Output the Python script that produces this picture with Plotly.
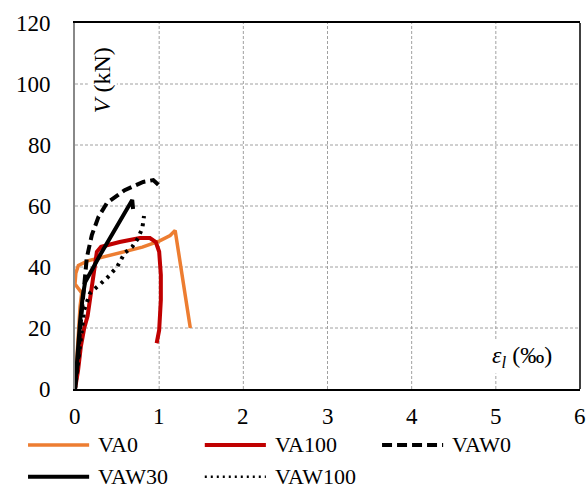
import plotly.graph_objects as go

# Longitudinal strain (‰) vs shear force V (kN) for each specimen
va0_strain = [0.0, 0.02, 0.04, 0.06, 0.08, 0.0, 0.01, 0.04, 0.15, 0.3, 0.6, 0.8, 1.0, 1.13, 1.19, 1.37]
va0_force = [0.0, 10.0, 20.0, 27.0, 31.5, 34.4, 38.0, 40.5, 42.0, 43.0, 45.0, 46.5, 48.5, 50.3, 52.0, 20.0]

va100_strain = [0.0, 0.036, 0.07, 0.11, 0.15, 0.2, 0.24, 0.26, 0.31, 0.53, 0.77, 0.89, 0.96, 1.0, 1.02, 1.02, 1.0, 0.97]
va100_force = [0.0, 6.0, 14.0, 20.0, 24.0, 34.0, 40.7, 45.0, 46.6, 48.2, 49.5, 49.5, 48.2, 45.0, 37.4, 29.2, 19.3, 15.0]

vaw0_strain = [0.0, 0.036, 0.06, 0.09, 0.11, 0.14, 0.2, 0.28, 0.38, 0.59, 0.81, 0.93, 1.0]
vaw0_force = [0.0, 9.5, 19.3, 29.2, 35.7, 43.0, 50.5, 56.5, 61.0, 65.2, 67.9, 68.5, 66.7]

vaw30_strain = [0.0, 0.03, 0.06, 0.09, 0.12, 0.3, 0.5, 0.66, 0.68, 0.69]
vaw30_force = [0.0, 12.0, 22.0, 30.0, 35.0, 44.0, 53.5, 60.5, 62.0, 59.0]

vaw100_strain = [0.0, 0.04, 0.07, 0.11, 0.18, 0.38, 0.5, 0.59, 0.68, 0.75, 0.8, 0.82]
vaw100_force = [0.0, 9.5, 17.7, 26.0, 31.5, 36.4, 40.0, 44.6, 46.6, 49.5, 52.8, 56.7]

x_ticks = [0, 1, 2, 3, 4, 5, 6]
y_ticks = [0, 20, 40, 60, 80, 100, 120]

series = [
    ("VA0", va0_strain, va0_force, "#ED7D31", "solid", 3.5),
    ("VA100", va100_strain, va100_force, "#C00000", "solid", 4),
    ("VAW0", vaw0_strain, vaw0_force, "#000000", "10px,5px", 4),
    ("VAW30", vaw30_strain, vaw30_force, "#000000", "solid", 4),
    ("VAW100", vaw100_strain, vaw100_force, "#000000", "3px,5px", 4),
]

FONT = "Liberation Serif"
TICK_FONT = dict(family=FONT, size=23, color="black")
GRID = dict(color="#a0a0a0", width=1, dash="3px,2px")

fig = go.Figure()

# Dashed grid lines at the interior tick positions
for xv in x_ticks[1:-1]:
    fig.add_shape(type="line", xref="x", yref="paper", x0=xv, x1=xv, y0=0, y1=1,
                  line=GRID, layer="below")
for yv in y_ticks[1:-1]:
    fig.add_shape(type="line", xref="paper", yref="y", x0=0, x1=1, y0=yv, y1=yv,
                  line=GRID, layer="below")

# Tick labels in serif type
for xv in x_ticks:
    fig.add_annotation(xref="x", yref="paper", x=xv, y=-0.074, text=str(xv),
                       showarrow=False, xanchor="center", yanchor="middle",
                       font=TICK_FONT)
for yv in y_ticks:
    fig.add_annotation(xref="paper", yref="y", x=-0.044, y=yv, text=str(yv),
                       showarrow=False, xanchor="right", yanchor="middle",
                       font=TICK_FONT)

for name, xs, ys, color, dash, width in series:
    fig.add_trace(go.Scatter(
        x=xs, y=ys, mode="lines", name=name, showlegend=False,
        line=dict(color=color, dash=dash, width=width),
    ))

# Legend drawn as line samples + labels below the plot area
legend_cols = [(-0.093, 0.028, 0.042), (0.257, 0.378, 0.392), (0.608, 0.729, 0.743)]
legend_rows = [-0.153, -0.240]
for i, (name, _, _, color, dash, width) in enumerate(series):
    x0, x1, xt = legend_cols[i % 3]
    yy = legend_rows[i // 3]
    sample_dash = dash
    sample_width = width
    if name == "VAW100":
        sample_dash = "2px,4px"
        sample_width = 2.5
    fig.add_shape(type="line", xref="paper", yref="paper",
                  x0=x0, x1=x1, y0=yy, y1=yy,
                  line=dict(color=color, dash=sample_dash, width=sample_width))
    fig.add_annotation(xref="paper", yref="paper", x=xt, y=yy,
                       text=name, showarrow=False, xanchor="left", yanchor="middle",
                       font=dict(family=FONT, size=22, color="black"))

# Right frame edge
fig.add_shape(type="line", xref="paper", yref="paper", x0=1, x1=1, y0=0, y1=1,
              line=dict(color="black", width=1.5))

# Axis titles placed inside the plot on white boxes
fig.add_annotation(xref="paper", yref="paper", x=0.055, y=0.843,
                   xanchor="center", yanchor="middle",
                   text="<i>V</i> (kN)", textangle=-90, showarrow=False,
                   bgcolor="white", font=dict(family=FONT, size=24, color="black"))
fig.add_annotation(xref="paper", yref="paper", x=0.885, y=0.088,
                   xanchor="center", yanchor="middle",
                   text="<i>ε<sub>l</sub></i> (‰)", showarrow=False,
                   bgcolor="white", font=dict(family=FONT, size=24, color="black"))

fig.update_layout(
    width=588, height=489,
    margin=dict(l=75, r=8, t=23, b=100),
    paper_bgcolor="white", plot_bgcolor="white",
    font=dict(family=FONT, size=23, color="black"),
    showlegend=False,
    xaxis=dict(
        range=[0, 6], showgrid=False, showticklabels=False, ticks="",
        showline=True, linecolor="black", linewidth=1.5, mirror=True,
        zeroline=False,
    ),
    yaxis=dict(
        range=[0, 120], showgrid=False, showticklabels=False, ticks="",
        showline=True, linecolor="#888888", linewidth=1.5,
        zeroline=False,
    ),
)

fig.write_html("out.html")
